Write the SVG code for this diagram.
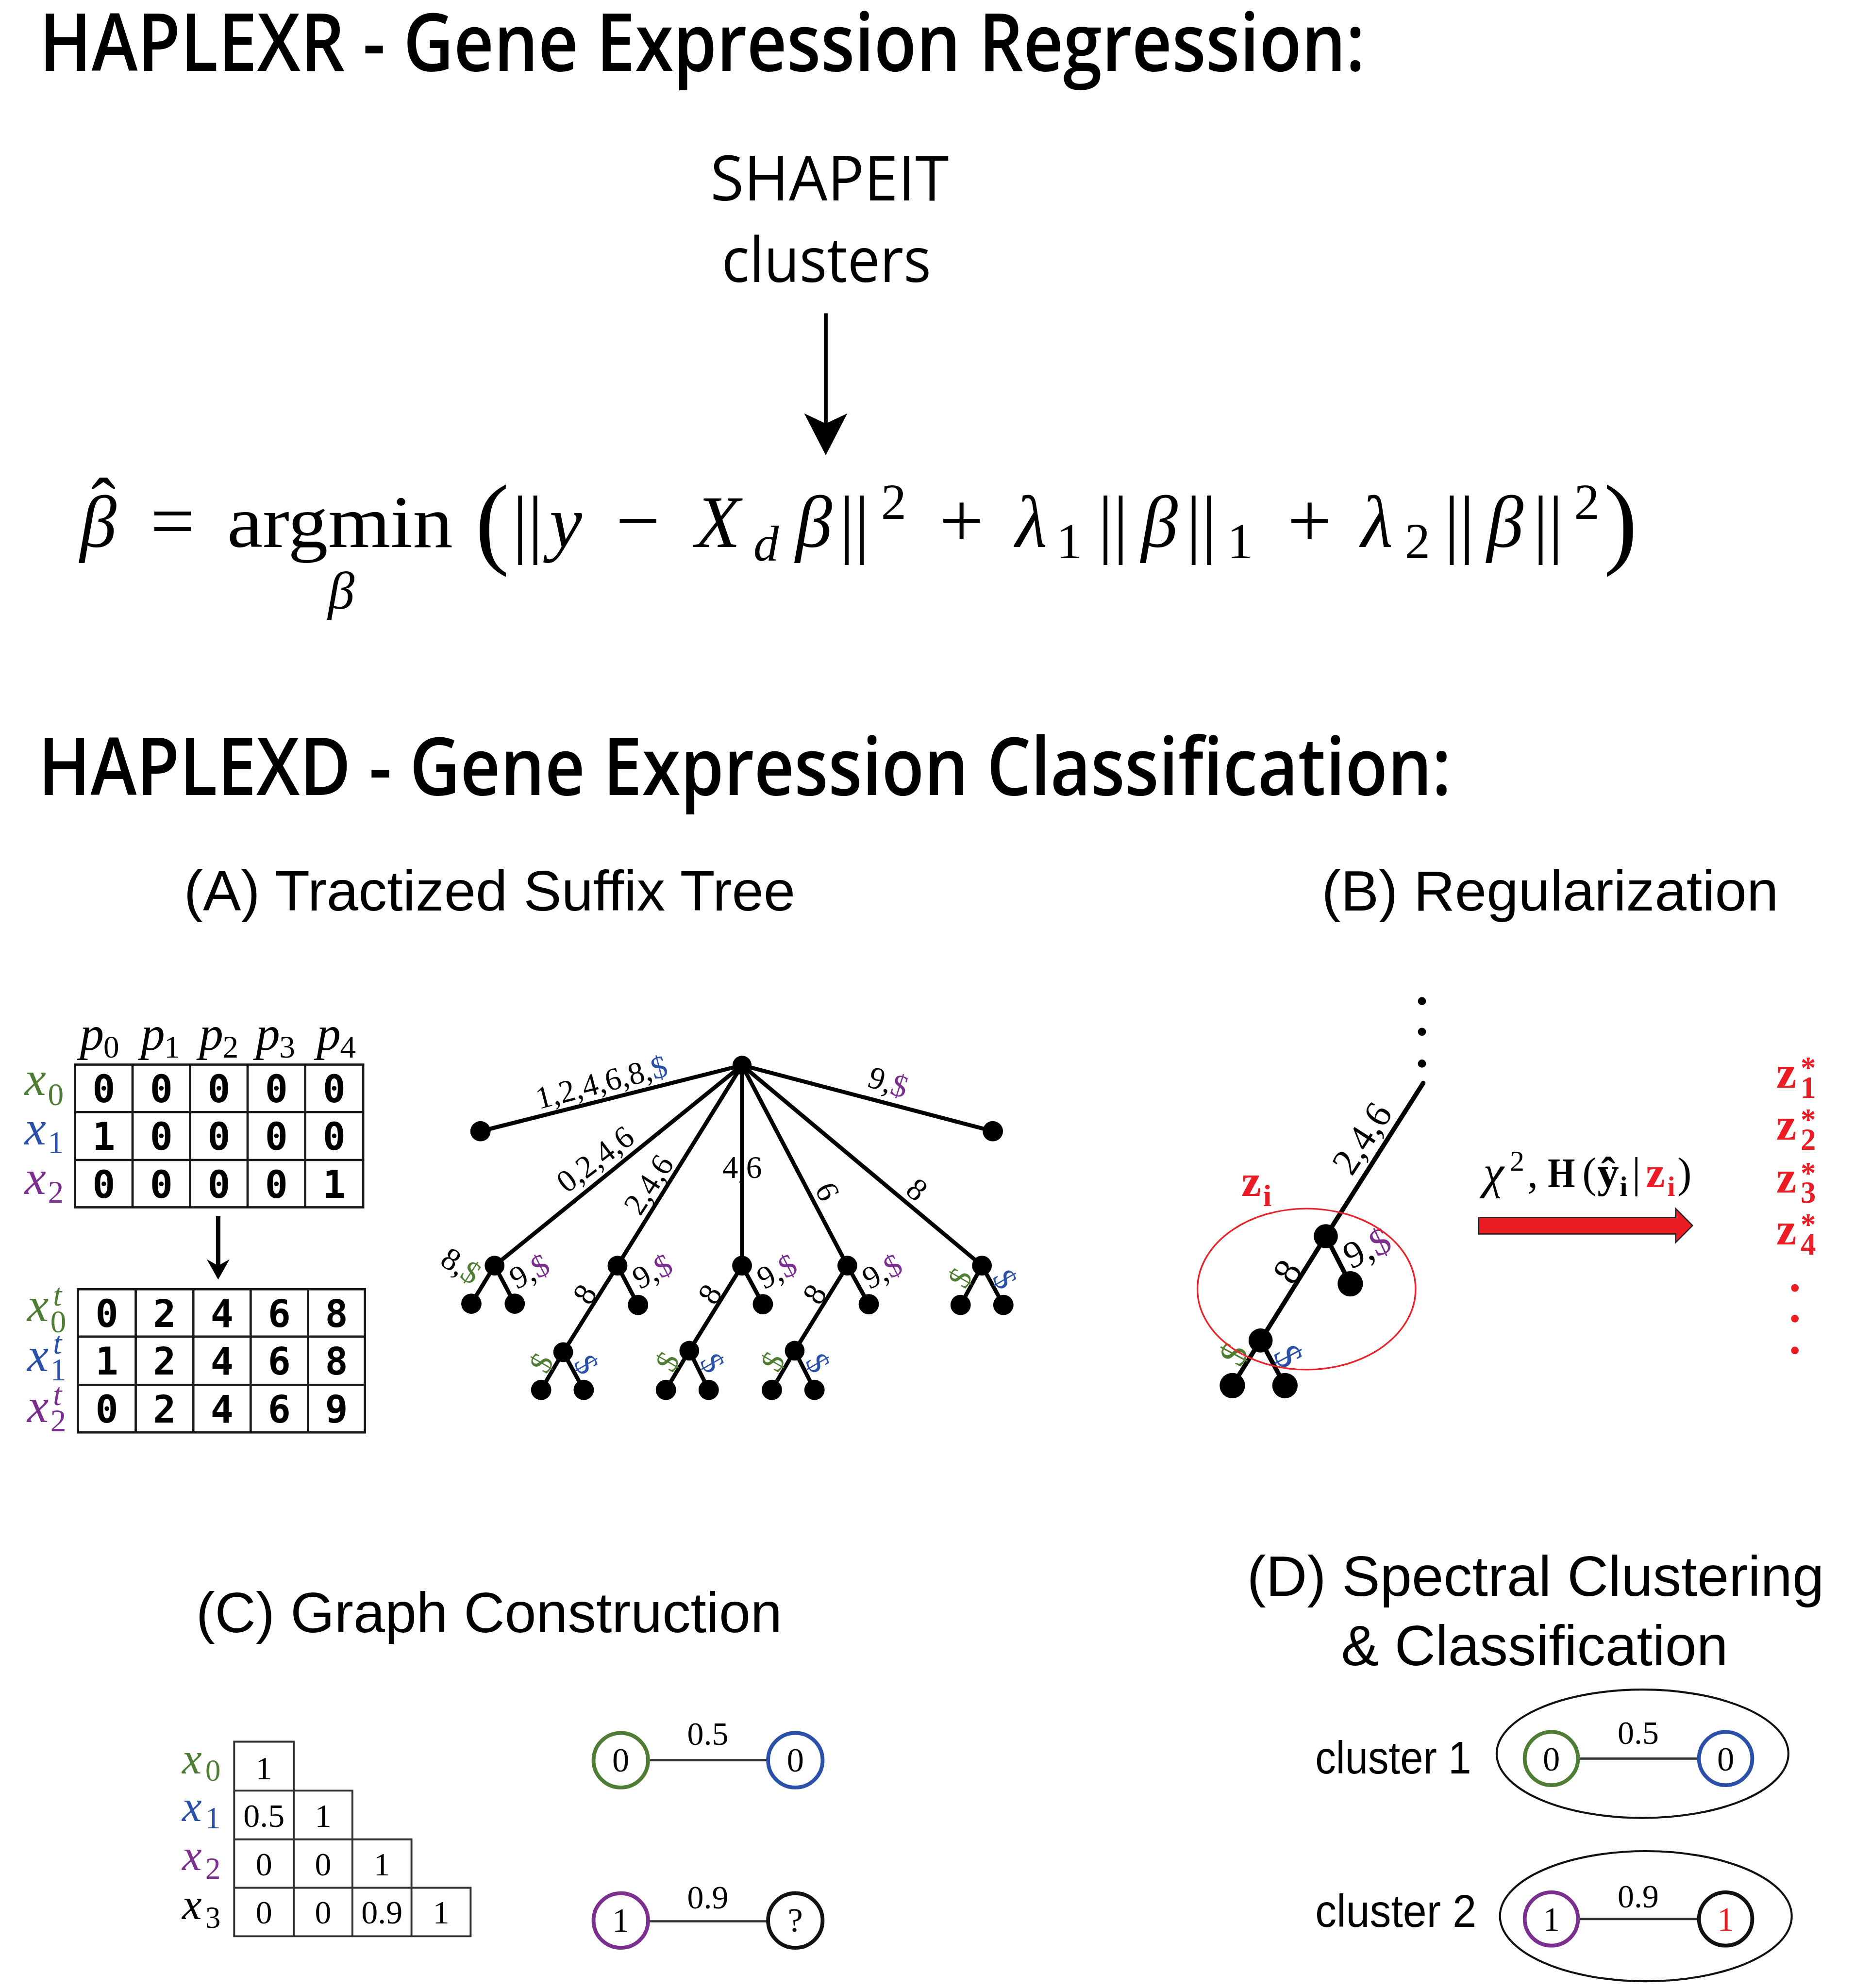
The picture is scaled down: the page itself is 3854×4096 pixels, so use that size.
<svg xmlns="http://www.w3.org/2000/svg" width="3854" height="4096" viewBox="0 0 3854 4096">
<style>
.h{font-family:"Open Sans","Noto Sans",sans-serif;font-weight:600;font-size:63px;fill:#000}
.s{font-family:"Open Sans","Noto Sans",sans-serif;font-size:49px;fill:#000;text-anchor:middle}
.t{font-family:"Liberation Sans",Arial,sans-serif;fill:#000}
.m{font-family:"Liberation Serif","Times New Roman",serif;fill:#000;text-anchor:middle}
.it{font-style:italic}
.bd{font-weight:bold}
.mono{font-family:"DejaVu Sans Mono","Liberation Mono",monospace;font-weight:bold;font-size:30px;text-anchor:middle;fill:#000}
.edge{stroke:#000;stroke-width:3.2;fill:none;stroke-linecap:round}
.edgeB{stroke:#000;stroke-width:3.6;fill:none;stroke-linecap:round}
.lbl{font-family:"Liberation Serif","Times New Roman",serif;font-size:25px;text-anchor:middle;fill:#000}
.lblB{font-family:"Liberation Serif","Times New Roman",serif;font-size:30px;text-anchor:middle;fill:#000}
.grid{stroke:#1a1a1a;stroke-width:1.8;fill:none}
.grid2{stroke:#333;stroke-width:1.5;fill:none}
.cell{font-family:"Liberation Serif","Times New Roman",serif;text-anchor:middle;fill:#000}
.var{font-family:"Liberation Serif","Times New Roman",serif;font-style:italic}
.sub{font-family:"Liberation Serif","Times New Roman",serif}
.gn{fill:#4e7d33}
.bl{fill:#2a50a8}
.pu{fill:#7b2f8e}
.rd{fill:#ec1c24}
.dot{fill:#000}
.gc{fill:#fff;stroke-width:3}
.link{stroke:#333;stroke-width:1.8}
.zr{font-family:"Liberation Serif","Times New Roman",serif;font-weight:bold;fill:#ec1c24}
</style>
<rect width="3854" height="4096" fill="#fff"/>
<g transform="scale(2.61288)">

<!-- Headings -->
<g id="title-regression"><text class="h" x="31" y="56" textLength="1045" lengthAdjust="spacingAndGlyphs">HAPLEXR - Gene Expression Regression:</text></g>
<g id="shapeit">
<text class="s" x="654" y="158.2" textLength="188" lengthAdjust="spacingAndGlyphs">SHAPEIT</text>
<text class="s" x="651.5" y="222.5" textLength="165" lengthAdjust="spacingAndGlyphs">clusters</text>
</g>

<!-- Formula -->
<g id="formula" font-size="58">
<text class="var" x="63" y="431.5">β<tspan font-style="normal" dx="-20" dy="-14.5">ˆ</tspan></text>
<text class="m" x="136" y="431.5" font-size="62">=</text>
<text class="m" x="268" y="431.5" textLength="178" lengthAdjust="spacingAndGlyphs">argmin</text>
<text class="m it" x="269" y="480" font-size="42">β</text>
<text class="m" x="388" y="438" font-size="80">(</text>
<text class="m" x="416" y="433" font-size="60">||</text>
<text class="m it" x="446" y="431.5">y</text>
<text class="m" x="503" y="431.5" font-size="62">−</text>
<text class="m it" x="566" y="431.5">X</text>
<text class="m it" x="604" y="442" font-size="40">d</text>
<text class="m it" x="641.5" y="431.5">β</text>
<text class="m" x="673.5" y="433" font-size="60">||</text>
<text class="m" x="704.5" y="409" font-size="40">2</text>
<text class="m" x="758" y="431.5" font-size="62">+</text>
<text class="m it" x="813" y="431.5">λ</text>
<text class="m" x="843" y="440" font-size="40">1</text>
<text class="m" x="877.5" y="433" font-size="60">||</text>
<text class="m it" x="914" y="431.5">β</text>
<text class="m" x="947" y="433" font-size="60">||</text>
<text class="m" x="977.5" y="440" font-size="40">1</text>
<text class="m" x="1032.5" y="431.5" font-size="62">+</text>
<text class="m it" x="1085.5" y="431.5">λ</text>
<text class="m" x="1117.5" y="440" font-size="40">2</text>
<text class="m" x="1150.5" y="433" font-size="60">||</text>
<text class="m it" x="1186.5" y="431.5">β</text>
<text class="m" x="1220.5" y="433" font-size="60">||</text>
<text class="m" x="1251" y="409" font-size="40">2</text>
<text class="m" x="1277.5" y="438" font-size="80">)</text>
</g>

<g id="title-classification"><text class="h" x="30" y="627" textLength="1114" lengthAdjust="spacingAndGlyphs">HAPLEXD - Gene Expression Classification:</text></g>
<g id="title-A"><text class="t" x="145" y="718" font-size="45" textLength="482" lengthAdjust="spacingAndGlyphs">(A) Tractized Suffix Tree</text></g>
<g id="title-B"><text class="t" x="1042" y="718" font-size="45" textLength="360" lengthAdjust="spacingAndGlyphs">(B) Regularization</text></g>
<g id="title-C"><text class="t" x="154.5" y="1287" font-size="45" textLength="462" lengthAdjust="spacingAndGlyphs">(C) Graph Construction</text></g>
<g id="title-D">
<text class="t" x="983" y="1258.5" font-size="45" textLength="455" lengthAdjust="spacingAndGlyphs">(D) Spectral Clustering</text>
<text class="t" x="1057.3" y="1313" font-size="45" textLength="305" lengthAdjust="spacingAndGlyphs">&amp; Classification</text>
</g>

<!-- Table 1 -->
<g id="table-haplotypes">
<rect class="grid" x="59.1" y="839.5" width="227.2" height="112.5"/>
<path class="grid" d="M104.5,839.5V952M149.8,839.5V952M195.2,839.5V952M240.6,839.5V952M59.1,876.9H286.3M59.1,914.7H286.3"/>
<text class="mono" x="81.8 127.15 172.5 217.9 263.45" y="869.2">00000</text>
<text class="mono" x="81.8 127.15 172.5 217.9 263.45" y="906.8">10000</text>
<text class="mono" x="81.8 127.15 172.5 217.9 263.45" y="944.4">00001</text>
<g font-size="38">
<text class="var" x="63" y="828">p</text><text class="sub" x="81.5" y="834" font-size="25">0</text>
<text class="var" x="111" y="828">p</text><text class="sub" x="129.5" y="834" font-size="25">1</text>
<text class="var" x="157" y="828">p</text><text class="sub" x="175.5" y="834" font-size="25">2</text>
<text class="var" x="201.7" y="828">p</text><text class="sub" x="220.2" y="834" font-size="25">3</text>
<text class="var" x="249.6" y="828">p</text><text class="sub" x="268.1" y="834" font-size="25">4</text>
<text class="var gn" x="19.4" y="863.4">x</text><text class="sub gn" x="37.7" y="871.5" font-size="25">0</text>
<text class="var bl" x="19.4" y="902.5">x</text><text class="sub bl" x="37.7" y="909.5" font-size="25">1</text>
<text class="var pu" x="19.4" y="941.5">x</text><text class="sub pu" x="37.7" y="948.5" font-size="25">2</text>
</g>
</g>

<g id="table-transformed">
<rect class="grid" x="61.5" y="1016.6" width="226.2" height="112.9"/>
<path class="grid" d="M107,1016.6V1129.5M152.4,1016.6V1129.5M197.6,1016.6V1129.5M242.8,1016.6V1129.5M61.5,1054H287.7M61.5,1092H287.7"/>
<text class="mono" x="84.25 129.7 175 220.2 265.25" y="1046.3">02468</text>
<text class="mono" x="84.25 129.7 175 220.2 265.25" y="1084">12468</text>
<text class="mono" x="84.25 129.7 175 220.2 265.25" y="1121.8">02469</text>
<g font-size="38">
<text class="var gn" x="21.4" y="1041.9">x</text><text class="var gn" x="41.8" y="1029.6" font-size="25">t</text><text class="sub gn" x="39.7" y="1050.4" font-size="25">0</text>
<text class="var bl" x="21.4" y="1081">x</text><text class="var bl" x="41.8" y="1067.5" font-size="25">t</text><text class="sub bl" x="39.7" y="1088.3" font-size="25">1</text>
<text class="var pu" x="21.4" y="1121.3">x</text><text class="var pu" x="41.8" y="1107.9" font-size="25">t</text><text class="sub pu" x="39.7" y="1128.6" font-size="25">2</text>
</g>
</g>

<!-- Connectors -->
<g id="connectors">
<path d="M651,247V336" stroke="#000" stroke-width="3"/>
<polygon points="651,359 634,326 651,334 668,326" fill="#000"/>
<path d="M172,959V999" stroke="#000" stroke-width="3.5"/>
<polygon points="172,1009 163,993 172,998 181,993" fill="#000"/>
<g id="tree-A-edges">
<path class="edge" d="M585,840L378.8,892M585,840L782.7,892M585,840L389.9,998M585,840L486.8,998M585,840L585,998M585,840L668,998M585,840L774.1,998"/>
<path class="edge" d="M389.9,998L371.6,1028M389.9,998L405.8,1028M486.8,998L444,1066.2M486.8,998L503,1029M585,998L543.4,1065.1M585,998L601.4,1028.4M668,998L626.5,1065.1M668,998L684.9,1028.4M774.1,998L757.3,1029M774.1,998L791,1029"/>
<path class="edge" d="M444,1066.2L426.6,1096M444,1066.2L460.2,1096M543.4,1065.1L525,1096M543.4,1065.1L558.7,1096M626.5,1065.1L608.5,1096M626.5,1065.1L642.1,1096"/>
</g>
<g id="tree-B-edges">
<path class="edgeB" d="M1122,854L1045.2,974.8L993.8,1057M1045.2,974.8L1064.5,1012.3M993.8,1057L971.5,1092.6M993.8,1057L1013,1092.6"/>
</g>
<g id="graph-C-edges">
<path class="link" d="M511,1388H605.5M511,1515H605.5"/>
</g>
<g id="graph-D-edges">
<path class="link" d="M1244,1386.7H1339.4M1244,1513.2H1339.4"/>
</g>
<polygon id="red-arrow" points="1165.7,960 1321,960 1321,953 1334.3,966.4 1321,979.7 1321,973 1165.7,973" fill="#ec1c24" stroke="#231f20" stroke-width="1"/>
</g>

<!-- Tree A nodes -->
<g id="tree-A-nodes">
<g id="a-root"><circle class="dot" cx="585" cy="840" r="7.5"/></g>
<g id="a-l1"><circle class="dot" cx="378.8" cy="892" r="8"/></g>
<g id="a-l2"><circle class="dot" cx="782.7" cy="892" r="8"/></g>
<g id="a-c1"><circle class="dot" cx="389.9" cy="998" r="7.8"/></g>
<g id="a-c2"><circle class="dot" cx="486.8" cy="998" r="7.8"/></g>
<g id="a-c3"><circle class="dot" cx="585" cy="998" r="7.8"/></g>
<g id="a-c4"><circle class="dot" cx="668" cy="998" r="7.8"/></g>
<g id="a-c5"><circle class="dot" cx="774.1" cy="998" r="7.8"/></g>
<g id="a-c1a"><circle class="dot" cx="371.6" cy="1028" r="8"/></g>
<g id="a-c1b"><circle class="dot" cx="405.8" cy="1028" r="8"/></g>
<g id="a-c2b"><circle class="dot" cx="503" cy="1029" r="8"/></g>
<g id="a-c3b"><circle class="dot" cx="601.4" cy="1028.4" r="8"/></g>
<g id="a-c4b"><circle class="dot" cx="684.9" cy="1028.4" r="8"/></g>
<g id="a-c5a"><circle class="dot" cx="757.3" cy="1029" r="8"/></g>
<g id="a-c5b"><circle class="dot" cx="791" cy="1029" r="8"/></g>
<g id="a-g2"><circle class="dot" cx="444" cy="1066.2" r="7.8"/></g>
<g id="a-g3"><circle class="dot" cx="543.4" cy="1065.1" r="7.8"/></g>
<g id="a-g4"><circle class="dot" cx="626.5" cy="1065.1" r="7.8"/></g>
<g id="a-g2a"><circle class="dot" cx="426.6" cy="1096" r="8"/></g>
<g id="a-g2b"><circle class="dot" cx="460.2" cy="1096" r="8"/></g>
<g id="a-g3a"><circle class="dot" cx="525" cy="1096" r="8"/></g>
<g id="a-g3b"><circle class="dot" cx="558.7" cy="1096" r="8"/></g>
<g id="a-g4a"><circle class="dot" cx="608.5" cy="1096" r="8"/></g>
<g id="a-g4b"><circle class="dot" cx="642.1" cy="1096" r="8"/></g>
</g>

<!-- Tree A labels -->
<g id="tree-A-labels">
<text class="lbl" transform="translate(474.1,853.2) rotate(-14.5)" dy="0.34em">1,2,4,6,8,<tspan class="bl">$</tspan></text>
<text class="lbl" transform="translate(700.3,853.2) rotate(18)" dy="0.34em">9,<tspan class="pu">$</tspan></text>
<text class="lbl" transform="translate(469.1,913.9) rotate(-37.2)" dy="0.34em">0,2,4,6</text>
<text class="lbl" transform="translate(511.2,934) rotate(-57)" dy="0.34em">2,4,6</text>
<text class="lbl" transform="translate(585,920.2)" dy="0.34em">4,6</text>
<text class="lbl" transform="translate(652.5,939.4) rotate(65)" dy="0.34em">6</text>
<text class="lbl" transform="translate(723.1,937.8) rotate(40)" dy="0.34em">8</text>
<text class="lbl" transform="translate(363.5,998) rotate(33)" dy="0.34em">8,<tspan class="gn">$</tspan></text>
<text class="lbl" transform="translate(417.3,1002.3) rotate(-27)" dy="0.34em">9,<tspan class="pu">$</tspan></text>
<text class="lbl" transform="translate(514.2,1002.3) rotate(-27)" dy="0.34em">9,<tspan class="pu">$</tspan></text>
<text class="lbl" transform="translate(612.4,1002.3) rotate(-27)" dy="0.34em">9,<tspan class="pu">$</tspan></text>
<text class="lbl" transform="translate(695.4,1002.3) rotate(-27)" dy="0.34em">9,<tspan class="pu">$</tspan></text>
<text class="lbl" transform="translate(460.8,1020.4) rotate(-58)" dy="0.34em">8</text>
<text class="lbl" transform="translate(559.5,1020.4) rotate(-58)" dy="0.34em">8</text>
<text class="lbl" transform="translate(642,1020.4) rotate(-58)" dy="0.34em">8</text>
<text class="lbl gn" transform="translate(756.7,1007.6) rotate(-60)" dy="0.34em">$</text>
<text class="lbl bl" transform="translate(792.4,1008.6) rotate(60)" dy="0.34em">$</text>
<text class="lbl gn" transform="translate(426.6,1074.7) rotate(-60)" dy="0.34em">$</text>
<text class="lbl bl" transform="translate(462.4,1075.8) rotate(60)" dy="0.34em">$</text>
<text class="lbl gn" transform="translate(526,1073.6) rotate(-60)" dy="0.34em">$</text>
<text class="lbl bl" transform="translate(561.8,1074.7) rotate(60)" dy="0.34em">$</text>
<text class="lbl gn" transform="translate(609.1,1073.6) rotate(-60)" dy="0.34em">$</text>
<text class="lbl bl" transform="translate(644.9,1074.7) rotate(60)" dy="0.34em">$</text>
</g>

<!-- Section B -->
<g id="tree-B">
<g id="b-dots"><circle class="dot" cx="1121" cy="789.4" r="3.2"/><circle class="dot" cx="1121" cy="813.6" r="3.2"/><circle class="dot" cx="1121" cy="838.7" r="3.2"/></g>
<g id="b-n1"><circle class="dot" cx="1045.2" cy="974.8" r="9.5"/></g>
<g id="b-leaf"><circle class="dot" cx="1064.5" cy="1012.3" r="10"/></g>
<g id="b-n2"><circle class="dot" cx="993.8" cy="1057" r="9.5"/></g>
<g id="b-l1"><circle class="dot" cx="971.5" cy="1092.6" r="10"/></g>
<g id="b-l2"><circle class="dot" cx="1013" cy="1092.6" r="10"/></g>
<text class="lblB" transform="translate(1073.5,897.5) rotate(-57)" dy="0.34em">2,4,6</text>
<text class="lblB" transform="translate(1014.6,1002.5) rotate(-58)" dy="0.34em">8</text>
<text class="lblB" transform="translate(1077.6,983.8) rotate(-25)" dy="0.34em">9,<tspan class="pu">$</tspan></text>
<text class="lblB gn" transform="translate(972.4,1067.7) rotate(-62)" dy="0.34em">$</text>
<text class="lblB bl" transform="translate(1015.8,1069.3) rotate(62)" dy="0.34em">$</text>
<g id="b-zi">
<ellipse cx="1030" cy="1016.5" rx="86" ry="63.5" fill="none" stroke="#e8242b" stroke-width="1.3"/>
<text class="zr" x="978.6" y="943" font-size="35">z<tspan x="995.7" y="951" font-size="24">i</tspan></text>
</g>
</g>

<g id="b-criterion" font-size="34">
<text class="m it" x="1177.4" y="937" font-size="37">χ</text>
<text class="m" x="1196" y="923" font-size="23">2</text>
<text class="m" x="1208.3" y="936">,</text>
<text class="m bd" x="1231" y="936" font-size="33" textLength="21.5" lengthAdjust="spacingAndGlyphs">H</text>
<text class="m" x="1253" y="936">(</text>
<text class="m bd" x="1267.7" y="936">ŷ</text>
<text class="m bd" x="1280" y="943" font-size="22">i</text>
<text class="m" x="1290" y="936">|</text>
<text class="zr" x="1305" y="936" text-anchor="middle">z</text>
<text class="zr" x="1317.5" y="943" font-size="22" text-anchor="middle">i</text>
<text class="m" x="1328" y="936">)</text>
</g>

<g id="b-zstar">
<text class="zr" x="1400.3" y="857.7" font-size="36">z<tspan x="1419.5" y="865.7" font-size="24">1</tspan><tspan x="1419.5" y="850.2" font-size="24">*</tspan></text>
<text class="zr" x="1400.3" y="898.6" font-size="36">z<tspan x="1419.5" y="906.6" font-size="24">2</tspan><tspan x="1419.5" y="891.1" font-size="24">*</tspan></text>
<text class="zr" x="1400.3" y="940.4" font-size="36">z<tspan x="1419.5" y="948.4" font-size="24">3</tspan><tspan x="1419.5" y="932.9" font-size="24">*</tspan></text>
<text class="zr" x="1400.3" y="981.3" font-size="36">z<tspan x="1419.5" y="989.3" font-size="24">4</tspan><tspan x="1419.5" y="973.8" font-size="24">*</tspan></text>
<circle cx="1415" cy="1015.6" r="3" fill="#ec1c24"/>
<circle cx="1415" cy="1039.8" r="3" fill="#ec1c24"/>
<circle cx="1415" cy="1064.9" r="3" fill="#ec1c24"/>
</g>

<!-- Section C -->
<g id="similarity-matrix" font-size="26">
<path class="grid2" d="M184.6,1373.4H231.6V1412H277.8V1450.4H324.4V1488.6H371V1526.8H184.6Z"/>
<path class="grid2" d="M184.6,1412H231.6M184.6,1450.4H277.8M184.6,1488.6H324.4M231.6,1412V1526.8M277.8,1450.4V1526.8M324.4,1488.6V1526.8"/>
<text class="cell" x="208.1" y="1403">1</text>
<text class="cell" x="208.1" y="1440.6">0.5</text><text class="cell" x="254.7" y="1440.6">1</text>
<text class="cell" x="208.1" y="1479">0</text><text class="cell" x="254.7" y="1479">0</text><text class="cell" x="301.1" y="1479">1</text>
<text class="cell" x="208.1" y="1516.8">0</text><text class="cell" x="254.7" y="1516.8">0</text><text class="cell" x="301.1" y="1516.8">0.9</text><text class="cell" x="347.7" y="1516.8">1</text>
<text class="var gn" x="143.5" y="1398.4" font-size="35">x</text><text class="sub gn" x="161.9" y="1404.3" font-size="24">0</text>
<text class="var bl" x="143.5" y="1436" font-size="35">x</text><text class="sub bl" x="161.9" y="1441.8" font-size="24">1</text>
<text class="var pu" x="143.5" y="1474.6" font-size="35">x</text><text class="sub pu" x="161.9" y="1481.6" font-size="24">2</text>
<text class="var" x="143.5" y="1513.3" font-size="35">x</text><text class="sub" x="161.9" y="1520.3" font-size="24">3</text>
</g>
<g font-size="27">
<g id="c-n0a"><circle class="gc" cx="489.4" cy="1388" r="21.5" stroke="#4e7d33"/><text class="cell" x="489.4" y="1396.8">0</text></g>
<g id="c-n0b"><circle class="gc" cx="627" cy="1388" r="21.5" stroke="#2a50a8"/><text class="cell" x="627" y="1396.8">0</text></g>
<g id="c-n1a"><circle class="gc" cx="489.4" cy="1514.4" r="21.5" stroke="#7b2f8e"/><text class="cell" x="489.4" y="1523.2">1</text></g>
<g id="c-nq"><circle class="gc" cx="627" cy="1514.4" r="21.5" stroke="#111"/><text class="cell" x="627" y="1523.2">?</text></g>
</g>
<g id="c-weights" font-size="26">
<text class="cell" x="558" y="1376">0.5</text>
<text class="cell" x="558" y="1505">0.9</text>
</g>

<!-- Section D -->
<g id="cluster-1">
<ellipse cx="1294.9" cy="1382.9" rx="115" ry="50.6" fill="none" stroke="#111" stroke-width="1.6"/>
<text class="t" x="1036.9" y="1398.5" font-size="36" textLength="123" lengthAdjust="spacingAndGlyphs">cluster 1</text>
</g>
<g id="cluster-2">
<ellipse cx="1297.5" cy="1511" rx="115" ry="51.3" fill="none" stroke="#111" stroke-width="1.6"/>
<text class="t" x="1036.9" y="1519.3" font-size="36" textLength="127" lengthAdjust="spacingAndGlyphs">cluster 2</text>
</g>
<g font-size="27">
<g id="d-n0a"><circle class="gc" cx="1223" cy="1386.7" r="21" stroke="#4e7d33"/><text class="cell" x="1223" y="1396">0</text></g>
<g id="d-n0b"><circle class="gc" cx="1360.4" cy="1386.7" r="21" stroke="#2a50a8"/><text class="cell" x="1360.4" y="1396">0</text></g>
<g id="d-n1a"><circle class="gc" cx="1223" cy="1513.2" r="21" stroke="#7b2f8e"/><text class="cell" x="1223" y="1522.5">1</text></g>
<g id="d-n1b"><circle class="gc" cx="1360.4" cy="1513.2" r="21" stroke="#111"/><text class="cell rd" x="1360.4" y="1522.5">1</text></g>
</g>
<g id="d-weights" font-size="26">
<text class="cell" x="1291.5" y="1375.2">0.5</text>
<text class="cell" x="1291.5" y="1504.1">0.9</text>
</g>
</g>
</svg>
